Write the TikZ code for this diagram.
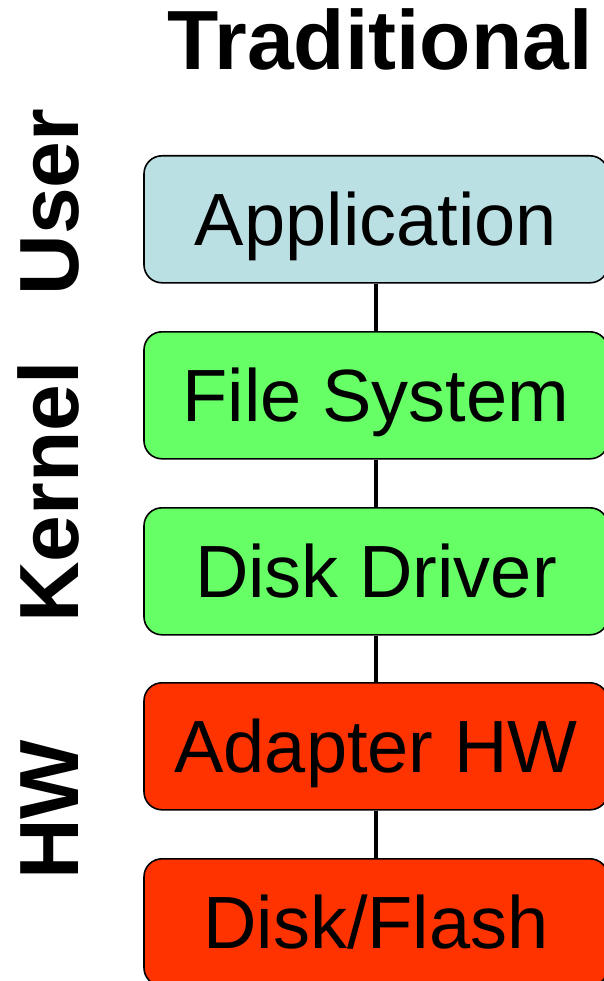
\documentclass[tikz,border=0pt]{standalone}
\usepackage{fontspec}
\setmainfont{Liberation Sans}
\definecolor{userblue}{HTML}{BBE0E3}
\definecolor{kgreen}{HTML}{66FF66}
\definecolor{hwred}{HTML}{FF3300}
\begin{document}
\begin{tikzpicture}[x=1pt,y=-1pt,
  layerbox/.style={draw=black,line width=1.6pt,rounded corners=18pt,minimum width=464pt,minimum height=127pt,inner sep=0pt,
    font=\fontsize{74}{74}\selectfont,text height=53pt,text depth=0pt,anchor=north},
  sidelabel/.style={rotate=90,inner sep=0pt,font=\fontsize{84}{84}\selectfont\bfseries,text height=60pt,text depth=0pt},
  link/.style={line width=4pt}]
\useasboundingbox (0,0) rectangle (604,981);
\clip (0,0) rectangle (604,981);
\node[inner sep=0pt,font=\fontsize{84}{84}\selectfont\bfseries,text height=60pt,text depth=0pt] (title) at (380,40) {Traditional};
\node[sidelabel] (user) at (48,202) {User};
\node[sidelabel] (kernel) at (48,492) {Kernel};
\node[sidelabel] (hw) at (48,810) {HW};
\node[layerbox,fill=userblue] (app) at (376,155) {Application};
\node[layerbox,fill=kgreen] (fs) at (376,331) {File System};
\node[layerbox,fill=kgreen] (dd) at (376,507) {Disk Driver};
\node[layerbox,fill=hwred] (ahw) at (376,682) {Adapter HW};
\node[layerbox,fill=hwred] (disk) at (376,858) {Disk/Flash};
\draw[link] (app.south) -- (fs.north);
\draw[link] (fs.south) -- (dd.north);
\draw[link] (dd.south) -- (ahw.north);
\draw[link] (ahw.south) -- (disk.north);
\end{tikzpicture}
\end{document}
